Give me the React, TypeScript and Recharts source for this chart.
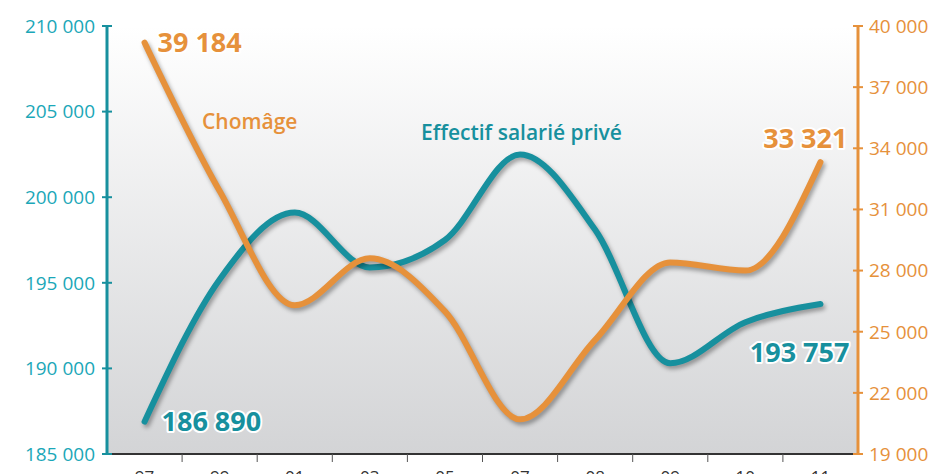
import React from "react";
import {
  CartesianGrid,
  Line,
  LineChart,
  XAxis,
  YAxis,
} from "recharts";

const years = ["97", "99", "01", "03", "05", "07", "08", "09", "10", "11"];
const effectif = [186890, 195200, 199100, 195900, 197500, 202500, 198100, 190300, 192700, 193757];
const chomage = [39184, 31900, 26300, 28600, 26000, 20700, 24600, 28400, 28000, 33321];
const leftTicks = [185000, 190000, 195000, 200000, 205000, 210000];
const rightTicks = [19000, 22000, 25000, 28000, 31000, 34000, 37000, 40000];

const data = years.map((year, i) => ({
  year,
  effectif: effectif[i],
  chomage: chomage[i],
}));

const W = 932;
const H = 474;
const LEFT_W = 107;
const RIGHT_W = 74;
const TOP = 26;
const X_H = 20;
const BAND = (W - LEFT_W - RIGHT_W) / years.length;

const TEAL = "#17909e";
const TEAL_TXT = "#1ba7b8";
const ORANGE = "#e6913b";
const FONT = "'Open Sans', 'Noto Sans', sans-serif";

const fmt = (v: number) => {
  const s = String(v);
  return s.slice(0, s.length - 3) + " " + s.slice(-3);
};

function XTick(props: any) {
  const { x, payload, index } = props;
  const base = H - X_H;
  return (
    <g>
      {index < years.length - 1 && (
        <line
          x1={x + BAND / 2}
          x2={x + BAND / 2}
          y1={base}
          y2={base + 8}
          stroke="#555"
          strokeWidth={1}
        />
      )}
      <text
        x={x}
        y={base + 29}
        textAnchor="middle"
        fill="#333"
        fontSize={17}
        fontFamily={FONT}
      >
        {payload.value}
      </text>
    </g>
  );
}

// y ticks cross the axis line, like "+" marks
const YTick = (side: "left" | "right") => (props: any) => {
  const { y, payload } = props;
  const ax = side === "left" ? LEFT_W : W - RIGHT_W;
  const color = side === "left" ? TEAL : ORANGE;
  return (
    <g>
      <line x1={ax - 5} x2={ax + 5} y1={y} y2={y} stroke={color} strokeWidth={2} />
      <text
        x={side === "left" ? ax - 12 : ax + 11}
        y={y}
        dy="0.36em"
        textAnchor={side === "left" ? "end" : "start"}
        fill={side === "left" ? TEAL_TXT : ORANGE}
        fontSize={19}
        fontWeight={500}
        fontFamily={FONT}
      >
        {fmt(payload.value)}
      </text>
    </g>
  );
};

// value labels only on the first and last points
const endLabel =
  (values: number[], color: string, first: [number, number], last: [number, number]) =>
  (props: any) => {
    const { x, y, index } = props;
    if (index !== 0 && index !== values.length - 1) return null;
    const isFirst = index === 0;
    const [dx, dy] = isFirst ? first : last;
    return (
      <text
        key={index}
        x={x + dx}
        y={y + dy}
        textAnchor={isFirst ? "start" : "end"}
        fill={color}
        stroke="#fff"
        strokeWidth={4}
        paintOrder="stroke"
        strokeLinejoin="round"
        fontSize={27}
        fontWeight={700}
        fontFamily={FONT}
      >
        {fmt(values[index])}
      </text>
    );
  };

export default function App() {
  return (
    <div style={{ position: "absolute", left: 0, top: 0, width: W, height: H }}>
      <style>{`.shadowed { filter: drop-shadow(2px 3px 2px rgba(0,0,0,0.35)); }`}</style>
      <LineChart
        width={W}
        height={H}
        data={data}
        margin={{ top: TOP, right: 0, left: 0, bottom: 0 }}
      >
        <defs>
          <linearGradient id="bg" x1="0" y1="0" x2="0" y2="1">
            <stop offset="0%" stopColor="#ffffff" />
            <stop offset="100%" stopColor="#d3d4d6" />
          </linearGradient>
        </defs>
        <CartesianGrid horizontal={false} vertical={false} fill="url(#bg)" />
        <XAxis
          dataKey="year"
          scale="band"
          height={X_H}
          axisLine={{ stroke: "#333", strokeWidth: 2 }}
          tickLine={false}
          tick={<XTick />}
          interval={0}
        />
        <YAxis
          yAxisId="left"
          orientation="left"
          width={LEFT_W}
          domain={[185000, 210000]}
          ticks={leftTicks}
          allowDataOverflow
          axisLine={{ stroke: TEAL, strokeWidth: 3 }}
          tickLine={false}
          tick={YTick("left")}
          interval={0}
        />
        <YAxis
          yAxisId="right"
          orientation="right"
          width={RIGHT_W}
          domain={[19000, 40000]}
          ticks={rightTicks}
          allowDataOverflow
          axisLine={{ stroke: ORANGE, strokeWidth: 3 }}
          tickLine={false}
          tick={YTick("right")}
          interval={0}
        />
        <Line
          yAxisId="left"
          type="monotone"
          dataKey="effectif"
          className="shadowed"
          stroke={TEAL}
          strokeWidth={6}
          strokeLinecap="round"
          dot={false}
          activeDot={false}
          isAnimationActive={false}
          label={endLabel(effectif, TEAL, [17, 9], [29, 58])}
        />
        <Line
          yAxisId="right"
          type="monotone"
          dataKey="chomage"
          className="shadowed"
          stroke={ORANGE}
          strokeWidth={6}
          strokeLinecap="round"
          dot={false}
          activeDot={false}
          isAnimationActive={false}
          label={endLabel(chomage, ORANGE, [13, 9], [27, -14])}
        />
      </LineChart>
      <svg
        width={W}
        height={H}
        style={{ position: "absolute", left: 0, top: 0, pointerEvents: "none" }}
      >
        <text x={202} y={129} fill={ORANGE} fontSize={21} fontWeight={600} fontFamily={FONT}>
          Chomâge
        </text>
        <text x={421} y={140} fill={TEAL} fontSize={21} fontWeight={600} fontFamily={FONT}>
          Effectif salarié privé
        </text>
      </svg>
    </div>
  );
}
